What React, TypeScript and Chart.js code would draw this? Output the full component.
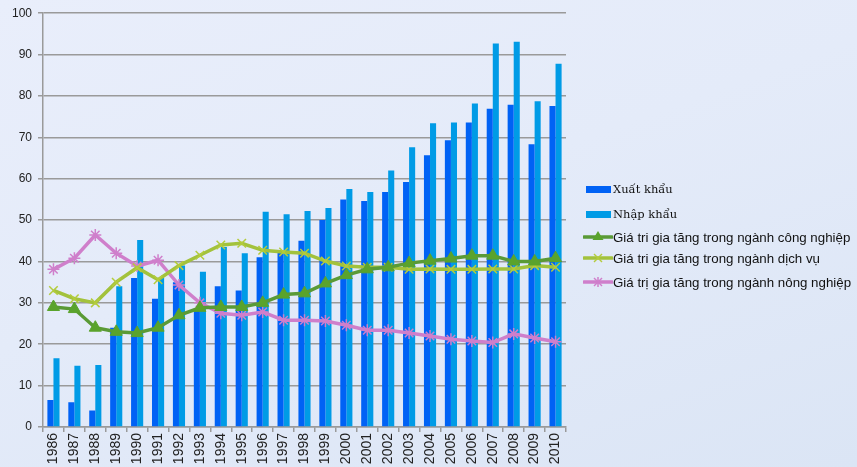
import React, { useEffect, useRef } from "react";
import { Chart, registerables } from "chart.js";

Chart.register(...registerables);

const years = ["1986","1987","1988","1989","1990","1991","1992","1993","1994","1995","1996","1997","1998","1999","2000","2001","2002","2003","2004","2005","2006","2007","2008","2009","2010"];
const xuatKhau = [6.5, 6, 4, 24, 36, 31, 35, 28.5, 34, 33, 41, 42.5, 45, 50, 55, 54.6, 56.8, 59.2, 65.7, 69.3, 73.6, 76.9, 77.9, 68.3, 77.6];
const nhapKhau = [16.6, 14.8, 15, 34, 45.2, 36, 39, 37.5, 43.5, 42, 52, 51.4, 52.2, 52.9, 57.5, 56.8, 62, 67.6, 73.4, 73.6, 78.2, 92.7, 93.1, 78.7, 87.8];
const congNghiep = [29, 28.5, 24, 23, 22.7, 24, 27, 28.8, 29, 29, 30, 32, 32.3, 34.7, 36.7, 38.1, 38.6, 39.6, 40.2, 40.7, 41.4, 41.4, 40, 40, 40.8];
const dichVu = [33, 31, 30, 35, 38.5, 35.6, 39, 41.5, 44, 44.4, 42.7, 42.3, 42, 40.1, 38.9, 38.6, 38.6, 38.1, 38.2, 38.1, 38.1, 38.2, 38.2, 39, 38.6];
const nongNghiep = [38.1, 40.8, 46.4, 42, 38.9, 40.3, 34.3, 30, 27.5, 27, 27.8, 25.8, 25.8, 25.6, 24.6, 23.4, 23.4, 22.7, 22, 21.2, 20.8, 20.4, 22.5, 21.5, 20.6];

const seriesNames = [
  "Xuất khẩu",
  "Nhập khẩu",
  "Giá tri gia tăng trong ngành công nghiệp",
  "Giá tri gia tăng trong ngành dịch vụ",
  "Giá trị gia tăng trong ngành nông nghiệp",
];

const C_XK = "#0062f5";
const C_NK = "#009be6";
const C_CN = "#5a9a36";
const C_CN_M = "#5aa32c";
const C_DV = "#a3c23c";
const C_DV_M = "#b4cc3c";
const C_NN = "#cf7fcb";

export default function App() {
  const ref = useRef<HTMLCanvasElement | null>(null);

  useEffect(() => {
    if (!ref.current) return;
    const chart = new Chart(ref.current, {
      type: "bar",
      data: {
        labels: years,
        datasets: [
          {
            type: "line",
            label: seriesNames[2],
            data: congNghiep,
            borderColor: C_CN,
            backgroundColor: C_CN_M,
            borderWidth: 3.5,
            pointStyle: "triangle",
            pointRadius: 7,
            pointBorderWidth: 1,
            pointBorderColor: C_CN_M,
            pointBackgroundColor: C_CN_M,
            tension: 0,
            order: 1,
          },
          {
            type: "line",
            label: seriesNames[3],
            data: dichVu,
            borderColor: C_DV,
            backgroundColor: C_DV_M,
            borderWidth: 3.5,
            pointStyle: "crossRot",
            pointRadius: 6,
            pointBorderWidth: 1.5,
            pointBorderColor: C_DV_M,
            tension: 0,
            order: 2,
          },
          {
            type: "line",
            label: seriesNames[4],
            data: nongNghiep,
            borderColor: C_NN,
            backgroundColor: C_NN,
            borderWidth: 3.5,
            pointStyle: "star",
            pointRadius: 6,
            pointBorderWidth: 1.5,
            pointBorderColor: C_NN,
            tension: 0,
            order: 3,
          },
          {
            type: "bar",
            label: seriesNames[0],
            data: xuatKhau,
            backgroundColor: C_XK,
            barPercentage: 1,
            categoryPercentage: 0.58,
            order: 10,
          },
          {
            type: "bar",
            label: seriesNames[1],
            data: nhapKhau,
            backgroundColor: C_NK,
            barPercentage: 1,
            categoryPercentage: 0.58,
            order: 11,
          },
        ],
      },
      options: {
        animation: false,
        responsive: false,
        maintainAspectRatio: false,
        layout: { padding: { top: 13, right: 291, left: 0, bottom: 0 } },
        plugins: {
          legend: { display: false },
          tooltip: { enabled: false },
        },
        scales: {
          x: {
            offset: true,
            grid: {
              display: true,
              offset: true,
              drawOnChartArea: false,
              drawTicks: true,
              tickLength: 5,
              color: "#9a9a9a",
              lineWidth: 1.5,
            },
            border: { display: true, color: "#9a9a9a", width: 1.5 },
            ticks: {
              minRotation: 90,
              maxRotation: 90,
              autoSkip: false,
              color: "#222",
              padding: 1,
              font: { family: "'Liberation Sans', Arial, sans-serif", size: 14 },
            },
            afterFit: (s: any) => {
              s.height = 40;
            },
          },
          y: {
            min: 0,
            max: 100,
            ticks: {
              stepSize: 10,
              color: "#222",
              padding: 6,
              font: { family: "'Liberation Sans', Arial, sans-serif", size: 12 },
            },
            grid: {
              color: "#9a9a9a",
              lineWidth: 1.5,
              tickLength: 5,
            },
            border: { display: true, color: "#9a9a9a", width: 1.5 },
            afterFit: (s: any) => {
              s.width = 43;
            },
          },
        },
      },
    });
    return () => chart.destroy();
  }, []);

  const sansFont = "'Liberation Sans', Arial, sans-serif";
  const serifFont = "'DejaVu Serif', 'Liberation Serif', serif";

  const legendRow = (top: number, marker: React.ReactNode, text: string, serif: boolean) => (
    <div
      style={{
        position: "absolute",
        left: 583,
        top,
        display: "flex",
        alignItems: "center",
        height: 16,
        whiteSpace: "nowrap",
      }}
    >
      <svg width={30} height={16} style={{ display: "block" }}>{marker}</svg>
      <span
        style={{
          fontFamily: serif ? serifFont : sansFont,
          fontSize: serif ? 11.5 : 13.3,
          color: "#111",
          marginLeft: 0,
        }}
      >
        {text}
      </span>
    </div>
  );

  return (
    <div
      style={{
        position: "fixed",
        left: 0,
        top: 0,
        width: 857,
        height: 467,
        overflow: "hidden",
        background: "linear-gradient(160deg, #e9eefb 0%, #e4ebf9 45%, #dbe5f5 100%)",
      }}
    >
      <canvas ref={ref} width={857} height={467} style={{ position: "absolute", left: 0, top: 0, width: 857, height: 467 }} />
      {legendRow(181, <rect x={3} y={5} width={25} height={7} fill={C_XK} />, seriesNames[0], true)}
      {legendRow(206, <rect x={3} y={5} width={25} height={7} fill={C_NK} />, seriesNames[1], true)}
      {legendRow(229,
        <g>
          <line x1={1} y1={8} x2={29} y2={8} stroke={C_CN} strokeWidth={3.5} strokeLinecap="round" />
          <polygon points="15,2 20.5,11 9.5,11" fill={C_CN_M} />
        </g>,
        seriesNames[2], false)}
      {legendRow(250,
        <g>
          <line x1={1} y1={8} x2={29} y2={8} stroke={C_DV} strokeWidth={3.5} strokeLinecap="round" />
          <line x1={11} y1={4} x2={19} y2={12} stroke={C_DV_M} strokeWidth={1.5} />
          <line x1={19} y1={4} x2={11} y2={12} stroke={C_DV_M} strokeWidth={1.5} />
        </g>,
        seriesNames[3], false)}
      {legendRow(274,
        <g>
          <line x1={1} y1={8} x2={29} y2={8} stroke={C_NN} strokeWidth={3.5} strokeLinecap="round" />
          <line x1={11} y1={4} x2={19} y2={12} stroke={C_NN} strokeWidth={1.5} />
          <line x1={19} y1={4} x2={11} y2={12} stroke={C_NN} strokeWidth={1.5} />
          <line x1={15} y1={3} x2={15} y2={13} stroke={C_NN} strokeWidth={1.5} />
        </g>,
        seriesNames[4], false)}
    </div>
  );
}
